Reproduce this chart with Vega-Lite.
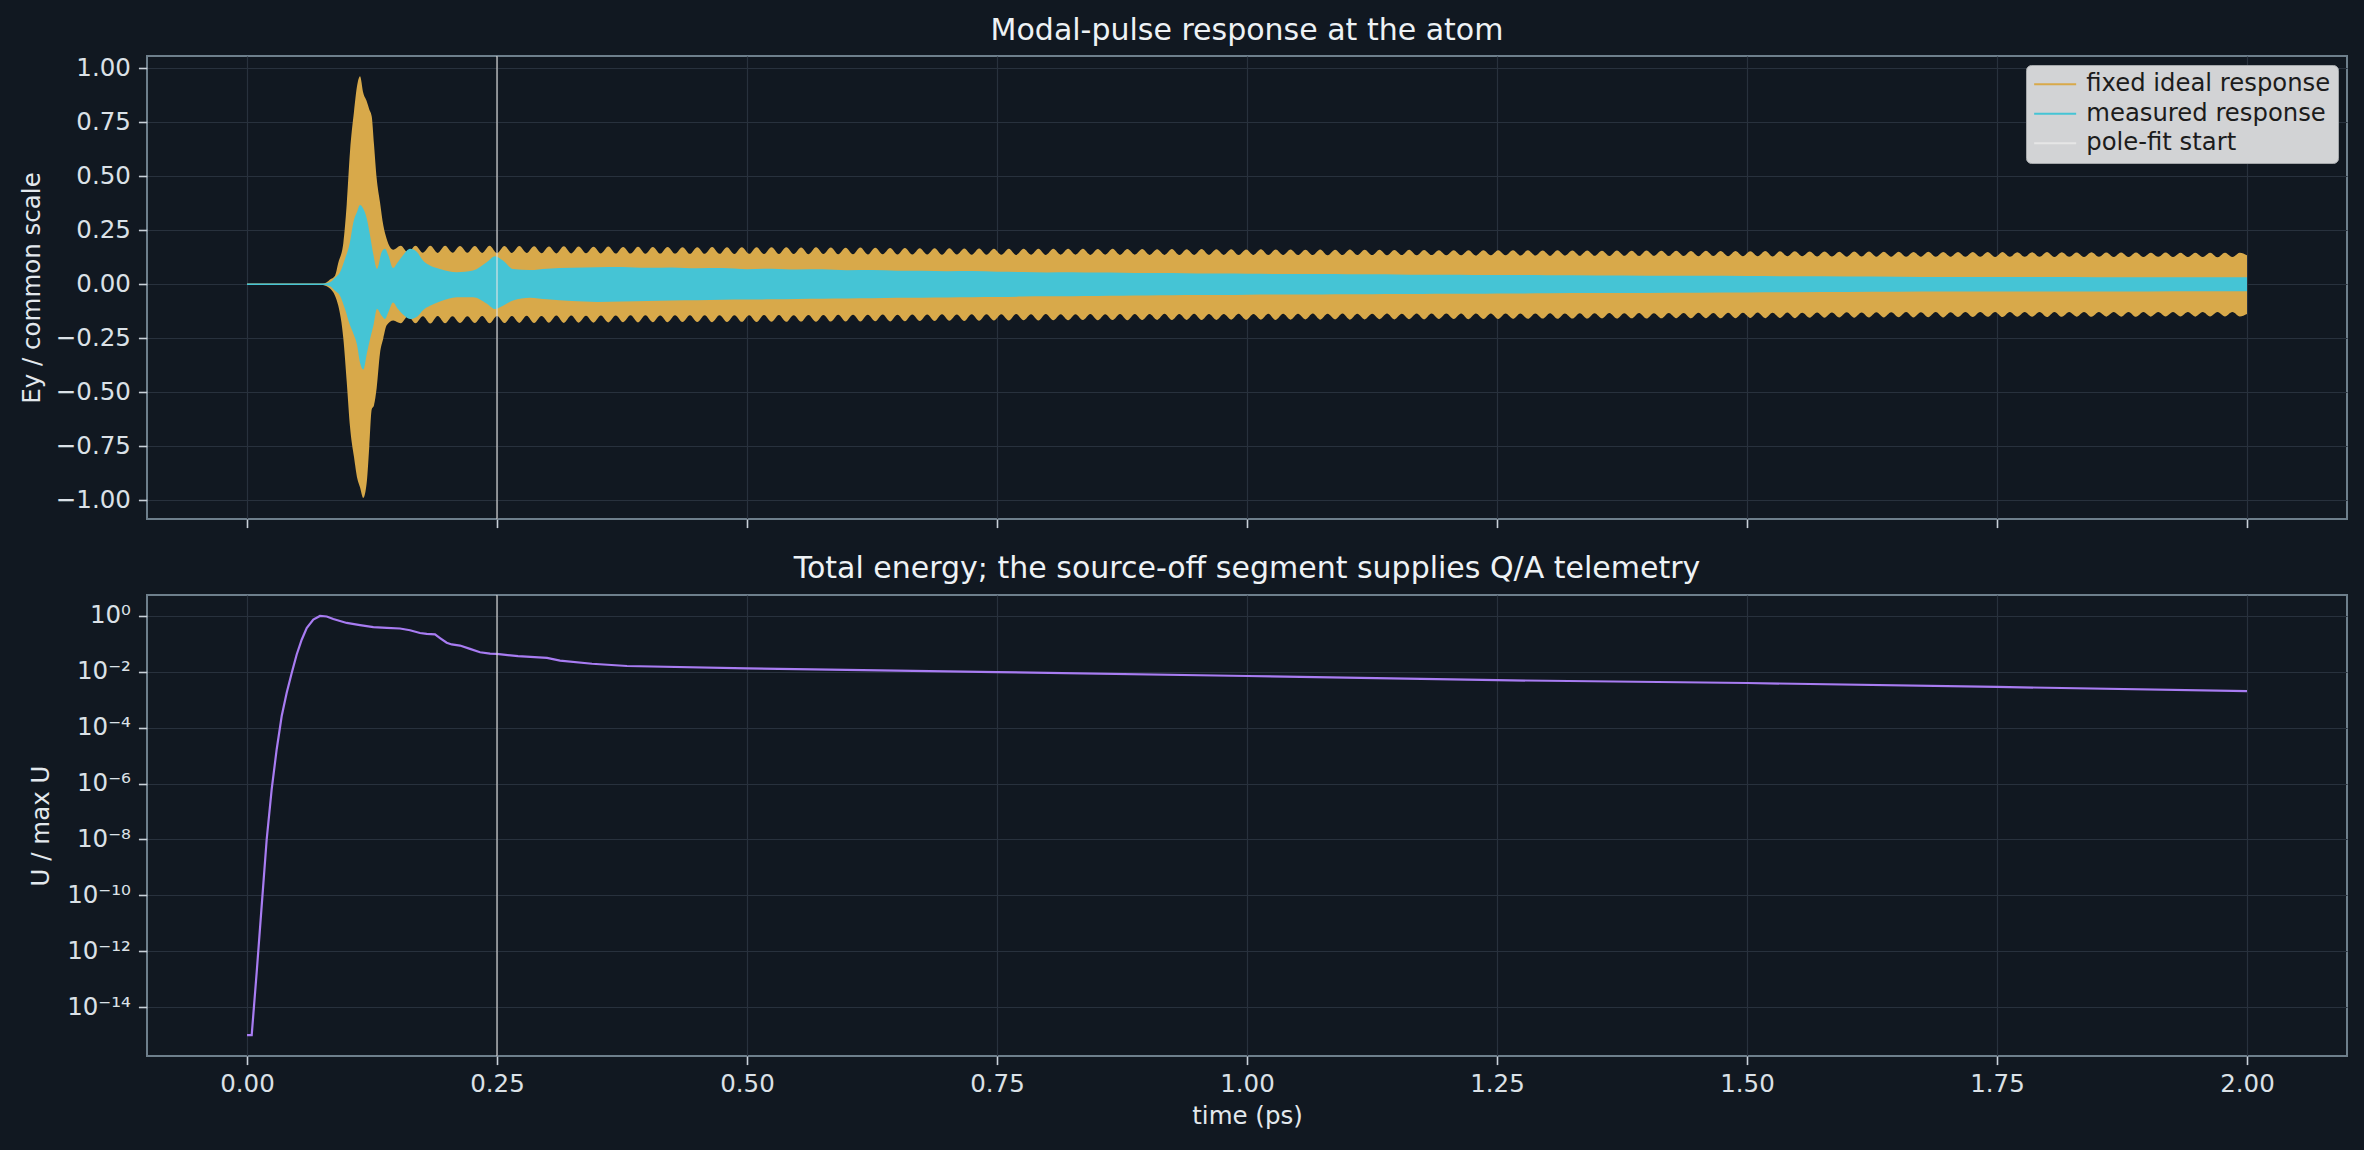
{
  "$schema": "https://vega.github.io/schema/vega-lite/v6.json",
  "background": "#111821",
  "padding": {"left": 18, "top": 15, "right": 17, "bottom": 23},
  "spacing": 23,
  "config": {
    "font": "DejaVu Sans",
    "view": {"stroke": "#6e7f8c", "strokeWidth": 2},
    "axis": {
      "domain": false,
      "gridColor": "#28313d",
      "gridWidth": 1.2,
      "tickColor": "#c9d1d9",
      "tickSize": 8.6,
      "tickWidth": 1.6,
      "labelColor": "#dbe1e7",
      "labelFont": "DejaVu Sans",
      "labelFontSize": 24.5,
      "labelPadding": 8,
      "titleColor": "#e3e8ed",
      "titleFont": "DejaVu Sans",
      "titleFontSize": 24.5,
      "titleFontWeight": "normal"
    },
    "title": {"color": "#eef2f5", "font": "DejaVu Sans", "fontSize": 30, "fontWeight": "normal"}
  },
  "datasets": {
    "polefit": [{"t": 0.25}],
    "ideal": [
      {"t": 0.0, "lo": -0.003, "hi": 0.003},
      {"t": 0.076, "lo": -0.003, "hi": 0.003},
      {"t": 0.0797, "lo": -0.009, "hi": 0.009},
      {"t": 0.083, "lo": -0.02, "hi": 0.022},
      {"t": 0.088, "lo": -0.053, "hi": 0.04},
      {"t": 0.0913, "lo": -0.1, "hi": 0.1},
      {"t": 0.0963, "lo": -0.25, "hi": 0.19},
      {"t": 0.0997, "lo": -0.45, "hi": 0.37},
      {"t": 0.103, "lo": -0.66, "hi": 0.615},
      {"t": 0.107, "lo": -0.8, "hi": 0.8},
      {"t": 0.1103, "lo": -0.9, "hi": 0.925},
      {"t": 0.113, "lo": -0.94, "hi": 0.964},
      {"t": 0.1163, "lo": -0.99, "hi": 0.886},
      {"t": 0.1197, "lo": -0.92, "hi": 0.848},
      {"t": 0.1223, "lo": -0.75, "hi": 0.81},
      {"t": 0.1247, "lo": -0.58, "hi": 0.778},
      {"t": 0.127, "lo": -0.56, "hi": 0.647},
      {"t": 0.1297, "lo": -0.48, "hi": 0.49},
      {"t": 0.133, "lo": -0.32, "hi": 0.38},
      {"t": 0.1363, "lo": -0.25, "hi": 0.273},
      {"t": 0.1397, "lo": -0.19, "hi": 0.21},
      {"t": 0.1463, "lo": -0.168, "hi": 0.16},
      {"t": 0.1537, "lo": -0.181, "hi": 0.178}, {"t": 0.1611, "lo": -0.148, "hi": 0.146},
      {"t": 0.1685, "lo": -0.181, "hi": 0.179}, {"t": 0.1759, "lo": -0.148, "hi": 0.146},
      {"t": 0.1833, "lo": -0.182, "hi": 0.178}, {"t": 0.1907, "lo": -0.147, "hi": 0.145},
      {"t": 0.1981, "lo": -0.181, "hi": 0.178}, {"t": 0.2055, "lo": -0.148, "hi": 0.146},
      {"t": 0.213, "lo": -0.18, "hi": 0.177}, {"t": 0.2204, "lo": -0.148, "hi": 0.146},
      {"t": 0.2278, "lo": -0.18, "hi": 0.177}, {"t": 0.2352, "lo": -0.147, "hi": 0.145},
      {"t": 0.2426, "lo": -0.181, "hi": 0.178}, {"t": 0.25, "lo": -0.147, "hi": 0.144},
      {"t": 0.2575, "lo": -0.18, "hi": 0.177}, {"t": 0.2649, "lo": -0.147, "hi": 0.145},
      {"t": 0.2723, "lo": -0.179, "hi": 0.177}, {"t": 0.2797, "lo": -0.146, "hi": 0.145},
      {"t": 0.2871, "lo": -0.18, "hi": 0.176}, {"t": 0.2945, "lo": -0.147, "hi": 0.144},
      {"t": 0.302, "lo": -0.178, "hi": 0.175}, {"t": 0.3094, "lo": -0.145, "hi": 0.143},
      {"t": 0.3168, "lo": -0.179, "hi": 0.176}, {"t": 0.3242, "lo": -0.145, "hi": 0.143},
      {"t": 0.3316, "lo": -0.178, "hi": 0.175}, {"t": 0.339, "lo": -0.146, "hi": 0.144},
      {"t": 0.3465, "lo": -0.178, "hi": 0.174}, {"t": 0.3539, "lo": -0.145, "hi": 0.143},
      {"t": 0.3613, "lo": -0.177, "hi": 0.175}, {"t": 0.3687, "lo": -0.145, "hi": 0.142},
      {"t": 0.3761, "lo": -0.176, "hi": 0.173}, {"t": 0.3835, "lo": -0.144, "hi": 0.142},
      {"t": 0.391, "lo": -0.177, "hi": 0.174}, {"t": 0.3984, "lo": -0.144, "hi": 0.141},
      {"t": 0.4058, "lo": -0.176, "hi": 0.173}, {"t": 0.4132, "lo": -0.145, "hi": 0.142},
      {"t": 0.4206, "lo": -0.176, "hi": 0.173}, {"t": 0.428, "lo": -0.144, "hi": 0.142},
      {"t": 0.4355, "lo": -0.175, "hi": 0.172}, {"t": 0.4429, "lo": -0.143, "hi": 0.141},
      {"t": 0.4503, "lo": -0.175, "hi": 0.172}, {"t": 0.4577, "lo": -0.143, "hi": 0.141},
      {"t": 0.4651, "lo": -0.176, "hi": 0.173}, {"t": 0.4725, "lo": -0.144, "hi": 0.141},
      {"t": 0.48, "lo": -0.175, "hi": 0.172}, {"t": 0.4874, "lo": -0.143, "hi": 0.14},
      {"t": 0.4948, "lo": -0.174, "hi": 0.171}, {"t": 0.5022, "lo": -0.143, "hi": 0.141},
      {"t": 0.5096, "lo": -0.175, "hi": 0.172}, {"t": 0.517, "lo": -0.142, "hi": 0.14},
      {"t": 0.5245, "lo": -0.174, "hi": 0.171}, {"t": 0.5319, "lo": -0.142, "hi": 0.14},
      {"t": 0.5393, "lo": -0.174, "hi": 0.171}, {"t": 0.5467, "lo": -0.143, "hi": 0.14},
      {"t": 0.5541, "lo": -0.173, "hi": 0.17}, {"t": 0.5615, "lo": -0.142, "hi": 0.139},
      {"t": 0.569, "lo": -0.174, "hi": 0.171}, {"t": 0.5764, "lo": -0.142, "hi": 0.14},
      {"t": 0.5838, "lo": -0.173, "hi": 0.17}, {"t": 0.5912, "lo": -0.141, "hi": 0.139},
      {"t": 0.5986, "lo": -0.172, "hi": 0.169}, {"t": 0.606, "lo": -0.141, "hi": 0.139},
      {"t": 0.6134, "lo": -0.172, "hi": 0.17}, {"t": 0.6208, "lo": -0.141, "hi": 0.138},
      {"t": 0.6283, "lo": -0.171, "hi": 0.169}, {"t": 0.6357, "lo": -0.14, "hi": 0.139},
      {"t": 0.6431, "lo": -0.172, "hi": 0.168}, {"t": 0.6505, "lo": -0.141, "hi": 0.138},
      {"t": 0.6579, "lo": -0.171, "hi": 0.168}, {"t": 0.6653, "lo": -0.14, "hi": 0.138},
      {"t": 0.6728, "lo": -0.17, "hi": 0.167}, {"t": 0.6802, "lo": -0.14, "hi": 0.138},
      {"t": 0.6876, "lo": -0.17, "hi": 0.167}, {"t": 0.695, "lo": -0.139, "hi": 0.137},
      {"t": 0.7024, "lo": -0.169, "hi": 0.167}, {"t": 0.7098, "lo": -0.14, "hi": 0.138},
      {"t": 0.7173, "lo": -0.17, "hi": 0.166}, {"t": 0.7247, "lo": -0.139, "hi": 0.137},
      {"t": 0.7321, "lo": -0.169, "hi": 0.166}, {"t": 0.7395, "lo": -0.139, "hi": 0.137},
      {"t": 0.7469, "lo": -0.168, "hi": 0.165}, {"t": 0.7543, "lo": -0.139, "hi": 0.137},
      {"t": 0.7618, "lo": -0.168, "hi": 0.165}, {"t": 0.7692, "lo": -0.138, "hi": 0.136},
      {"t": 0.7766, "lo": -0.167, "hi": 0.164}, {"t": 0.784, "lo": -0.139, "hi": 0.137},
      {"t": 0.7914, "lo": -0.168, "hi": 0.165}, {"t": 0.7988, "lo": -0.138, "hi": 0.136},
      {"t": 0.8063, "lo": -0.167, "hi": 0.164}, {"t": 0.8137, "lo": -0.139, "hi": 0.137},
      {"t": 0.8211, "lo": -0.167, "hi": 0.164}, {"t": 0.8285, "lo": -0.139, "hi": 0.137},
      {"t": 0.8359, "lo": -0.166, "hi": 0.164}, {"t": 0.8433, "lo": -0.138, "hi": 0.136},
      {"t": 0.8508, "lo": -0.167, "hi": 0.163}, {"t": 0.8582, "lo": -0.139, "hi": 0.137},
      {"t": 0.8656, "lo": -0.166, "hi": 0.164}, {"t": 0.873, "lo": -0.138, "hi": 0.136},
      {"t": 0.8804, "lo": -0.167, "hi": 0.163}, {"t": 0.8878, "lo": -0.138, "hi": 0.137},
      {"t": 0.8952, "lo": -0.166, "hi": 0.163}, {"t": 0.9026, "lo": -0.138, "hi": 0.136},
      {"t": 0.9101, "lo": -0.165, "hi": 0.162}, {"t": 0.9175, "lo": -0.137, "hi": 0.136},
      {"t": 0.9249, "lo": -0.166, "hi": 0.163}, {"t": 0.9323, "lo": -0.138, "hi": 0.135},
      {"t": 0.9397, "lo": -0.165, "hi": 0.162}, {"t": 0.9471, "lo": -0.137, "hi": 0.136},
      {"t": 0.9546, "lo": -0.166, "hi": 0.163}, {"t": 0.962, "lo": -0.138, "hi": 0.136},
      {"t": 0.9694, "lo": -0.165, "hi": 0.162}, {"t": 0.9768, "lo": -0.138, "hi": 0.136},
      {"t": 0.9842, "lo": -0.164, "hi": 0.162}, {"t": 0.9916, "lo": -0.137, "hi": 0.135},
      {"t": 0.9991, "lo": -0.165, "hi": 0.161}, {"t": 1.0065, "lo": -0.138, "hi": 0.136},
      {"t": 1.0139, "lo": -0.164, "hi": 0.162}, {"t": 1.0213, "lo": -0.137, "hi": 0.135},
      {"t": 1.0287, "lo": -0.165, "hi": 0.161}, {"t": 1.0361, "lo": -0.137, "hi": 0.136},
      {"t": 1.0436, "lo": -0.164, "hi": 0.161}, {"t": 1.051, "lo": -0.137, "hi": 0.135},
      {"t": 1.0584, "lo": -0.163, "hi": 0.16}, {"t": 1.0658, "lo": -0.136, "hi": 0.135},
      {"t": 1.0732, "lo": -0.164, "hi": 0.161}, {"t": 1.0806, "lo": -0.137, "hi": 0.134},
      {"t": 1.0881, "lo": -0.163, "hi": 0.16}, {"t": 1.0955, "lo": -0.136, "hi": 0.135},
      {"t": 1.1029, "lo": -0.164, "hi": 0.161}, {"t": 1.1103, "lo": -0.137, "hi": 0.135},
      {"t": 1.1177, "lo": -0.163, "hi": 0.16}, {"t": 1.1251, "lo": -0.137, "hi": 0.135},
      {"t": 1.1326, "lo": -0.162, "hi": 0.16}, {"t": 1.14, "lo": -0.136, "hi": 0.134},
      {"t": 1.1474, "lo": -0.163, "hi": 0.159}, {"t": 1.1548, "lo": -0.137, "hi": 0.135},
      {"t": 1.1622, "lo": -0.162, "hi": 0.16}, {"t": 1.1696, "lo": -0.136, "hi": 0.134},
      {"t": 1.1771, "lo": -0.163, "hi": 0.159}, {"t": 1.1845, "lo": -0.136, "hi": 0.135},
      {"t": 1.1919, "lo": -0.161, "hi": 0.158}, {"t": 1.1993, "lo": -0.136, "hi": 0.134},
      {"t": 1.2067, "lo": -0.161, "hi": 0.158}, {"t": 1.2141, "lo": -0.135, "hi": 0.134},
      {"t": 1.2215, "lo": -0.162, "hi": 0.158}, {"t": 1.2289, "lo": -0.136, "hi": 0.133},
      {"t": 1.2364, "lo": -0.161, "hi": 0.157}, {"t": 1.2438, "lo": -0.135, "hi": 0.134},
      {"t": 1.2512, "lo": -0.161, "hi": 0.158}, {"t": 1.2586, "lo": -0.136, "hi": 0.134},
      {"t": 1.266, "lo": -0.16, "hi": 0.157}, {"t": 1.2734, "lo": -0.135, "hi": 0.133},
      {"t": 1.2809, "lo": -0.16, "hi": 0.157}, {"t": 1.2883, "lo": -0.135, "hi": 0.133},
      {"t": 1.2957, "lo": -0.159, "hi": 0.156}, {"t": 1.3031, "lo": -0.134, "hi": 0.132},
      {"t": 1.3105, "lo": -0.16, "hi": 0.157}, {"t": 1.3179, "lo": -0.135, "hi": 0.133},
      {"t": 1.3254, "lo": -0.159, "hi": 0.156}, {"t": 1.3328, "lo": -0.134, "hi": 0.132},
      {"t": 1.3402, "lo": -0.159, "hi": 0.156}, {"t": 1.3476, "lo": -0.134, "hi": 0.132},
      {"t": 1.355, "lo": -0.158, "hi": 0.155}, {"t": 1.3624, "lo": -0.133, "hi": 0.131},
      {"t": 1.3699, "lo": -0.159, "hi": 0.156}, {"t": 1.3773, "lo": -0.134, "hi": 0.132},
      {"t": 1.3847, "lo": -0.158, "hi": 0.155}, {"t": 1.3921, "lo": -0.133, "hi": 0.131},
      {"t": 1.3995, "lo": -0.159, "hi": 0.156}, {"t": 1.4069, "lo": -0.134, "hi": 0.132},
      {"t": 1.4144, "lo": -0.158, "hi": 0.155}, {"t": 1.4218, "lo": -0.133, "hi": 0.131},
      {"t": 1.4292, "lo": -0.157, "hi": 0.155}, {"t": 1.4366, "lo": -0.133, "hi": 0.131},
      {"t": 1.444, "lo": -0.158, "hi": 0.154}, {"t": 1.4514, "lo": -0.132, "hi": 0.13},
      {"t": 1.4589, "lo": -0.157, "hi": 0.155}, {"t": 1.4663, "lo": -0.133, "hi": 0.131},
      {"t": 1.4737, "lo": -0.158, "hi": 0.154}, {"t": 1.4811, "lo": -0.132, "hi": 0.13},
      {"t": 1.4885, "lo": -0.157, "hi": 0.154}, {"t": 1.4959, "lo": -0.132, "hi": 0.13},
      {"t": 1.5033, "lo": -0.156, "hi": 0.153}, {"t": 1.5107, "lo": -0.131, "hi": 0.13},
      {"t": 1.5182, "lo": -0.157, "hi": 0.154}, {"t": 1.5256, "lo": -0.132, "hi": 0.129},
      {"t": 1.533, "lo": -0.156, "hi": 0.153}, {"t": 1.5404, "lo": -0.131, "hi": 0.13},
      {"t": 1.5478, "lo": -0.157, "hi": 0.153}, {"t": 1.5552, "lo": -0.132, "hi": 0.13},
      {"t": 1.5627, "lo": -0.155, "hi": 0.152}, {"t": 1.5701, "lo": -0.131, "hi": 0.129},
      {"t": 1.5775, "lo": -0.155, "hi": 0.152}, {"t": 1.5849, "lo": -0.131, "hi": 0.129},
      {"t": 1.5923, "lo": -0.154, "hi": 0.151}, {"t": 1.5997, "lo": -0.13, "hi": 0.128},
      {"t": 1.6072, "lo": -0.155, "hi": 0.152}, {"t": 1.6146, "lo": -0.131, "hi": 0.129},
      {"t": 1.622, "lo": -0.154, "hi": 0.152}, {"t": 1.6294, "lo": -0.13, "hi": 0.128},
      {"t": 1.6368, "lo": -0.154, "hi": 0.151}, {"t": 1.6442, "lo": -0.13, "hi": 0.128},
      {"t": 1.6517, "lo": -0.153, "hi": 0.151}, {"t": 1.6591, "lo": -0.129, "hi": 0.127},
      {"t": 1.6665, "lo": -0.154, "hi": 0.15}, {"t": 1.6739, "lo": -0.13, "hi": 0.128},
      {"t": 1.6813, "lo": -0.153, "hi": 0.151}, {"t": 1.6887, "lo": -0.129, "hi": 0.127},
      {"t": 1.6962, "lo": -0.154, "hi": 0.15}, {"t": 1.7036, "lo": -0.13, "hi": 0.128},
      {"t": 1.711, "lo": -0.152, "hi": 0.149}, {"t": 1.7184, "lo": -0.129, "hi": 0.127},
      {"t": 1.7258, "lo": -0.152, "hi": 0.15}, {"t": 1.7332, "lo": -0.129, "hi": 0.127},
      {"t": 1.7407, "lo": -0.151, "hi": 0.149}, {"t": 1.7481, "lo": -0.128, "hi": 0.126},
      {"t": 1.7555, "lo": -0.152, "hi": 0.149}, {"t": 1.7629, "lo": -0.129, "hi": 0.127},
      {"t": 1.7703, "lo": -0.151, "hi": 0.148}, {"t": 1.7777, "lo": -0.129, "hi": 0.127},
      {"t": 1.7851, "lo": -0.151, "hi": 0.148}, {"t": 1.7925, "lo": -0.129, "hi": 0.127},
      {"t": 1.8, "lo": -0.152, "hi": 0.149}, {"t": 1.8074, "lo": -0.128, "hi": 0.126},
      {"t": 1.8148, "lo": -0.151, "hi": 0.148}, {"t": 1.8222, "lo": -0.129, "hi": 0.127},
      {"t": 1.8296, "lo": -0.15, "hi": 0.147}, {"t": 1.837, "lo": -0.128, "hi": 0.126},
      {"t": 1.8445, "lo": -0.151, "hi": 0.148}, {"t": 1.8519, "lo": -0.129, "hi": 0.127},
      {"t": 1.8593, "lo": -0.15, "hi": 0.147}, {"t": 1.8667, "lo": -0.129, "hi": 0.126},
      {"t": 1.8741, "lo": -0.15, "hi": 0.147}, {"t": 1.8815, "lo": -0.128, "hi": 0.126},
      {"t": 1.889, "lo": -0.151, "hi": 0.147}, {"t": 1.8964, "lo": -0.129, "hi": 0.126},
      {"t": 1.9038, "lo": -0.15, "hi": 0.146}, {"t": 1.9112, "lo": -0.129, "hi": 0.127},
      {"t": 1.9186, "lo": -0.149, "hi": 0.147}, {"t": 1.926, "lo": -0.128, "hi": 0.126},
      {"t": 1.9335, "lo": -0.149, "hi": 0.146}, {"t": 1.9409, "lo": -0.129, "hi": 0.126},
      {"t": 1.9483, "lo": -0.15, "hi": 0.146}, {"t": 1.9557, "lo": -0.129, "hi": 0.126},
      {"t": 1.9631, "lo": -0.149, "hi": 0.146}, {"t": 1.9705, "lo": -0.128, "hi": 0.125},
      {"t": 1.978, "lo": -0.149, "hi": 0.146}, {"t": 1.9854, "lo": -0.129, "hi": 0.126},
      {"t": 1.9928, "lo": -0.149, "hi": 0.146},
      {"t": 2.0, "lo": -0.138, "hi": 0.134}
    ],
    "measured": [
      {"t": 0.0, "lo": -0.003, "hi": 0.003},
      {"t": 0.076, "lo": -0.003, "hi": 0.003},
      {"t": 0.083, "lo": -0.009, "hi": 0.009},
      {"t": 0.088, "lo": -0.03, "hi": 0.03},
      {"t": 0.093, "lo": -0.053, "hi": 0.056},
      {"t": 0.098, "lo": -0.115, "hi": 0.118},
      {"t": 0.103, "lo": -0.19, "hi": 0.196},
      {"t": 0.1065, "lo": -0.23, "hi": 0.29},
      {"t": 0.11, "lo": -0.28, "hi": 0.335},
      {"t": 0.113, "lo": -0.363, "hi": 0.367},
      {"t": 0.1163, "lo": -0.395, "hi": 0.35},
      {"t": 0.12, "lo": -0.317, "hi": 0.3},
      {"t": 0.123, "lo": -0.255, "hi": 0.227},
      {"t": 0.1265, "lo": -0.19, "hi": 0.134},
      {"t": 0.13, "lo": -0.115, "hi": 0.071},
      {"t": 0.1347, "lo": -0.146, "hi": 0.149},
      {"t": 0.138, "lo": -0.161, "hi": 0.164},
      {"t": 0.1413, "lo": -0.13, "hi": 0.134},
      {"t": 0.146, "lo": -0.084, "hi": 0.075},
      {"t": 0.151, "lo": -0.115, "hi": 0.103},
      {"t": 0.156, "lo": -0.14, "hi": 0.134},
      {"t": 0.163, "lo": -0.161, "hi": 0.164},
      {"t": 0.17, "lo": -0.15, "hi": 0.149},
      {"t": 0.176, "lo": -0.12, "hi": 0.11},
      {"t": 0.183, "lo": -0.1, "hi": 0.087},
      {"t": 0.193, "lo": -0.08, "hi": 0.071},
      {"t": 0.21, "lo": -0.06, "hi": 0.056},
      {"t": 0.226, "lo": -0.06, "hi": 0.064},
      {"t": 0.24, "lo": -0.09, "hi": 0.103},
      {"t": 0.248, "lo": -0.115, "hi": 0.13},
      {"t": 0.256, "lo": -0.1, "hi": 0.11},
      {"t": 0.266, "lo": -0.075, "hi": 0.071},
      {"t": 0.283, "lo": -0.062, "hi": 0.066},
      {"t": 0.3, "lo": -0.07, "hi": 0.072},
      {"t": 0.325, "lo": -0.078, "hi": 0.076},
      {"t": 0.35, "lo": -0.082, "hi": 0.079},
      {"t": 0.375, "lo": -0.08, "hi": 0.08},
      {"t": 0.4, "lo": -0.078, "hi": 0.076},
      {"t": 0.425, "lo": -0.075, "hi": 0.078},
      {"t": 0.45, "lo": -0.074, "hi": 0.074},
      {"t": 0.475, "lo": -0.072, "hi": 0.075},
      {"t": 0.5, "lo": -0.071, "hi": 0.07},
      {"t": 0.525, "lo": -0.07, "hi": 0.072},
      {"t": 0.55, "lo": -0.068, "hi": 0.068},
      {"t": 0.575, "lo": -0.067, "hi": 0.069},
      {"t": 0.6, "lo": -0.066, "hi": 0.065},
      {"t": 0.625, "lo": -0.065, "hi": 0.066},
      {"t": 0.65, "lo": -0.063, "hi": 0.063},
      {"t": 0.675, "lo": -0.062, "hi": 0.063},
      {"t": 0.7, "lo": -0.061, "hi": 0.06},
      {"t": 0.725, "lo": -0.06, "hi": 0.061},
      {"t": 0.75, "lo": -0.059, "hi": 0.058},
      {"t": 0.775, "lo": -0.057, "hi": 0.057},
      {"t": 0.8, "lo": -0.056, "hi": 0.055},
      {"t": 0.825, "lo": -0.055, "hi": 0.056},
      {"t": 0.85, "lo": -0.054, "hi": 0.054},
      {"t": 0.875, "lo": -0.053, "hi": 0.053},
      {"t": 0.9, "lo": -0.052, "hi": 0.052},
      {"t": 0.925, "lo": -0.051, "hi": 0.052},
      {"t": 0.95, "lo": -0.05, "hi": 0.05},
      {"t": 0.975, "lo": -0.05, "hi": 0.05},
      {"t": 1.0, "lo": -0.049, "hi": 0.049},
      {"t": 1.025, "lo": -0.048, "hi": 0.048},
      {"t": 1.05, "lo": -0.048, "hi": 0.047},
      {"t": 1.075, "lo": -0.047, "hi": 0.047},
      {"t": 1.1, "lo": -0.046, "hi": 0.046},
      {"t": 1.125, "lo": -0.046, "hi": 0.046},
      {"t": 1.15, "lo": -0.045, "hi": 0.045},
      {"t": 1.175, "lo": -0.045, "hi": 0.044},
      {"t": 1.2, "lo": -0.044, "hi": 0.044},
      {"t": 1.225, "lo": -0.044, "hi": 0.043},
      {"t": 1.25, "lo": -0.043, "hi": 0.043},
      {"t": 1.3, "lo": -0.042, "hi": 0.042},
      {"t": 1.35, "lo": -0.041, "hi": 0.041},
      {"t": 1.4, "lo": -0.04, "hi": 0.04},
      {"t": 1.45, "lo": -0.039, "hi": 0.039},
      {"t": 1.5, "lo": -0.038, "hi": 0.038},
      {"t": 1.55, "lo": -0.037, "hi": 0.037},
      {"t": 1.6, "lo": -0.036, "hi": 0.036},
      {"t": 1.65, "lo": -0.035, "hi": 0.035},
      {"t": 1.7, "lo": -0.034, "hi": 0.034},
      {"t": 1.75, "lo": -0.034, "hi": 0.034},
      {"t": 1.8, "lo": -0.033, "hi": 0.034},
      {"t": 1.85, "lo": -0.033, "hi": 0.033},
      {"t": 1.9, "lo": -0.033, "hi": 0.033},
      {"t": 1.95, "lo": -0.032, "hi": 0.033},
      {"t": 2.0, "lo": -0.032, "hi": 0.032}
    ],
    "energy": [
      {"t": 0.0, "u": 1e-15},
      {"t": 0.0047, "u": 1e-15},
      {"t": 0.0097, "u": 1.78e-13},
      {"t": 0.0147, "u": 4.27e-11},
      {"t": 0.0197, "u": 1.02e-8},
      {"t": 0.0247, "u": 6.3e-7},
      {"t": 0.0297, "u": 1.7e-5},
      {"t": 0.0347, "u": 2.63e-4},
      {"t": 0.0397, "u": 1.78e-3},
      {"t": 0.0447, "u": 9.1e-3},
      {"t": 0.0497, "u": 0.0417},
      {"t": 0.0547, "u": 0.141},
      {"t": 0.0597, "u": 0.372},
      {"t": 0.0663, "u": 0.741},
      {"t": 0.073, "u": 1.0},
      {"t": 0.0797, "u": 0.955},
      {"t": 0.0863, "u": 0.776},
      {"t": 0.0997, "u": 0.562},
      {"t": 0.113, "u": 0.468},
      {"t": 0.1263, "u": 0.398},
      {"t": 0.1397, "u": 0.372},
      {"t": 0.153, "u": 0.355},
      {"t": 0.163, "u": 0.309},
      {"t": 0.173, "u": 0.245},
      {"t": 0.1797, "u": 0.229},
      {"t": 0.188, "u": 0.219},
      {"t": 0.193, "u": 0.162},
      {"t": 0.1997, "u": 0.11},
      {"t": 0.2047, "u": 0.0955},
      {"t": 0.213, "u": 0.0871},
      {"t": 0.223, "u": 0.0661},
      {"t": 0.233, "u": 0.0501},
      {"t": 0.243, "u": 0.0447},
      {"t": 0.2497, "u": 0.0437},
      {"t": 0.271, "u": 0.0363},
      {"t": 0.3, "u": 0.0316},
      {"t": 0.313, "u": 0.0251},
      {"t": 0.345, "u": 0.0195},
      {"t": 0.38, "u": 0.0162},
      {"t": 0.5, "u": 0.0132},
      {"t": 0.75, "u": 0.00977},
      {"t": 1.0, "u": 0.00708},
      {"t": 1.25, "u": 0.00501},
      {"t": 1.5, "u": 0.00398},
      {"t": 1.75, "u": 0.00288},
      {"t": 2.0, "u": 0.00204}
    ]
  },
  "vconcat": [
    {
      "width": 2200,
      "height": 463,
      "title": {"text": "Modal-pulse response at the atom", "offset": 9},
      "encoding": {
        "x": {
          "field": "t",
          "type": "quantitative",
          "scale": {"domain": [-0.1, 2.1], "nice": false, "zero": false},
          "axis": {"values": [0, 0.25, 0.5, 0.75, 1, 1.25, 1.5, 1.75, 2], "labels": false, "title": null}
        }
      },
      "layer": [
        {
          "data": {"name": "ideal"},
          "mark": {"type": "area", "interpolate": "monotone", "opacity": 1},
          "encoding": {
            "y": {
              "field": "lo",
              "type": "quantitative",
              "scale": {"domain": [-1.0875, 1.0575], "nice": false, "zero": false},
              "axis": {"values": [-1, -0.75, -0.5, -0.25, 0, 0.25, 0.5, 0.75, 1], "format": ".2f", "title": "Ey / common scale", "titlePadding": 11}
            },
            "y2": {"field": "hi"},
            "color": {
              "datum": "fixed ideal response",
              "type": "nominal",
              "scale": {
                "domain": ["fixed ideal response", "measured response", "pole-fit start"],
                "range": ["#d8a94a", "#45c4d5", "#e6e6e6"]
              },
              "legend": {
                "title": null,
                "orient": "top-right",
                "offset": 9,
                "fillColor": "#d2d3d5",
                "strokeColor": "#a3a6a9",
                "cornerRadius": 5,
                "padding": 7,
                "labelColor": "#1c1c1c",
                "labelFont": "DejaVu Sans",
                "labelFontSize": 24.3,
                "labelLimit": 0,
                "labelOffset": 19,
                "symbolType": "M-2,0H2",
                "symbolSize": 441,
                "symbolOffset": 10,
                "symbolStrokeWidth": 2,
                "rowPadding": 4.5
              }
            }
          }
        },
        {
          "data": {"name": "measured"},
          "mark": {"type": "area", "interpolate": "monotone", "opacity": 1},
          "encoding": {
            "y": {"field": "lo", "type": "quantitative"},
            "y2": {"field": "hi"},
            "color": {"datum": "measured response", "type": "nominal"}
          }
        },
        {
          "data": {"name": "polefit"},
          "mark": {"type": "rule", "strokeWidth": 2, "strokeOpacity": 0.55},
          "encoding": {
            "color": {"datum": "pole-fit start", "type": "nominal"}
          }
        }
      ]
    },
    {
      "width": 2200,
      "height": 461,
      "title": {"text": "Total energy; the source-off segment supplies Q/A telemetry", "offset": 10},
      "encoding": {
        "x": {
          "field": "t",
          "type": "quantitative",
          "scale": {"domain": [-0.1, 2.1], "nice": false, "zero": false},
          "axis": {"values": [0, 0.25, 0.5, 0.75, 1, 1.25, 1.5, 1.75, 2], "format": ".2f", "title": "time (ps)", "titlePadding": 8}
        }
      },
      "layer": [
        {
          "data": {"name": "energy"},
          "mark": {"type": "line", "color": "#a87cf2", "strokeWidth": 2.2},
          "encoding": {
            "y": {
              "field": "u",
              "type": "quantitative",
              "scale": {"type": "log", "domain": [1.778e-16, 5.623], "nice": false},
              "axis": {
                "values": [1e-14, 1e-12, 1e-10, 1e-8, 1e-6, 1e-4, 1e-2, 1],
                "labelExpr": "{'0': '10⁰', '-2': '10⁻²', '-4': '10⁻⁴', '-6': '10⁻⁶', '-8': '10⁻⁸', '-10': '10⁻¹⁰', '-12': '10⁻¹²', '-14': '10⁻¹⁴'}['' + round(log(datum.value) / LN10)]",
                "title": "U / max U",
                "titlePadding": 13
              }
            }
          }
        },
        {
          "data": {"name": "polefit"},
          "mark": {"type": "rule", "color": "#e6e6e6", "strokeWidth": 2, "strokeOpacity": 0.55},
          "encoding": {}
        }
      ]
    }
  ]
}
